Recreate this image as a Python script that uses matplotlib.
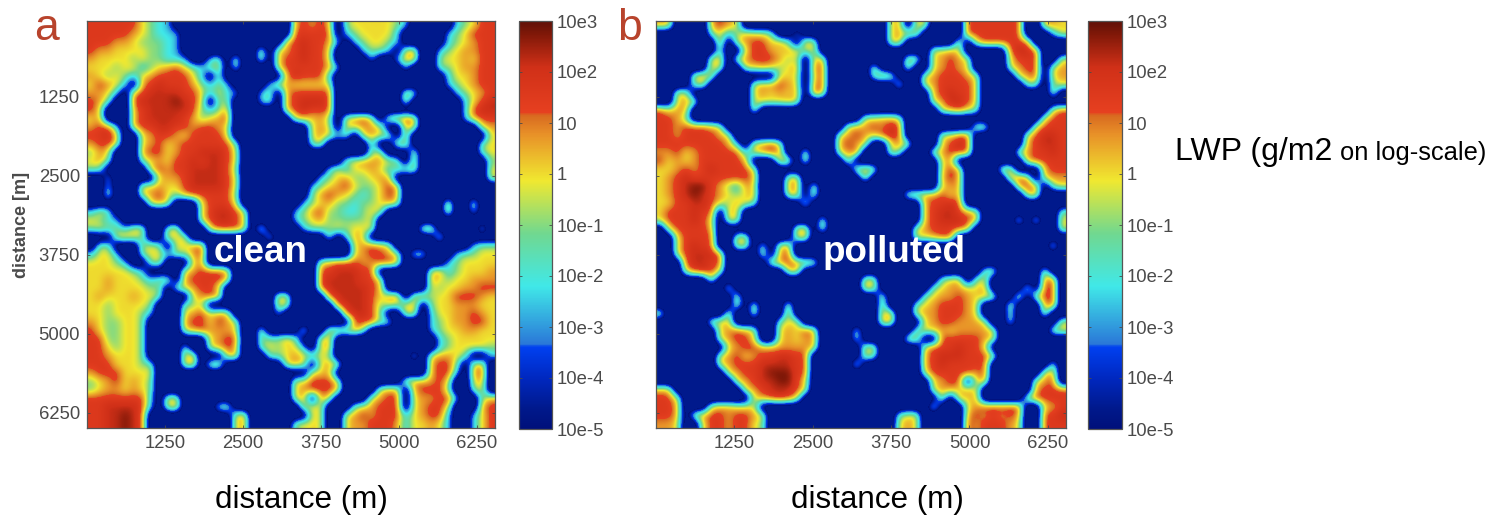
import numpy as np
import matplotlib
matplotlib.use("Agg")
import matplotlib.pyplot as plt
from matplotlib.colors import LinearSegmentedColormap, Normalize
from matplotlib.cm import ScalarMappable

plt.rcParams['font.family'] = ['Liberation Sans', 'DejaVu Sans']

clean_rows = [
"5555553211 0000000000 0000454540 2333332100 00012355",
"5555543211 1000000000 0000555550 1233331000 00123555",
"5554432221 1000000000 0004565541 0123321000 00123455",
"5443333221 1000000000 3034565530 0012210340 01234455",
"4333323221 1100120300 3035565530 0001001440 02334355",
"3332331234 5321230200 0035555541 0000000100 02234455",
"4323213455 5531020000 0004655510 0000000000 00133455",
"3543104565 5542121000 0134333330 0000000000 00123455",
"4431045666 6553131100 1204555550 0000000320 00012345",
"5420056666 7653022000 1204566650 0000000300 00001356",
"5300045666 6652124000 0004565550 0000000000 00001566",
"3400045666 6542345000 0000343420 3453034540 00001455",
"4551045566 5545543000 0000003430 3344300430 00000034",
"5564003455 4355553000 0000003431 2034330300 00000003",
"4553003453 4555555200 0000002300 0002003300 00000023",
"2430004553 4556665300 0000000000 0002300030 00000023",
"3420002343 5565665300 0000000000 2344432030 00000002",
"2200000354 5566665200 0000000013 1334312230 00000003",
"0010000034 4566665300 0000000123 4223440000 00000003",
"0010003343 3566665300 0000001234 5322354000 00000000",
"0030003453 2455555200 0000002454 3212354000 00000000",
"0000000343 0003555300 0000012342 2122343000 00400300",
"1320000000 0003566530 0000124522 1123300000 00400100",
"3211000000 0003566530 0000123422 2223000000 00000000",
"2322133002 4000355530 4000012223 2333000003 40000020",
"0003432003 3300000000 0200000020 1430000000 03000000",
"0220002320 3345000000 0000000000 0345430000 00000122",
"1331002331 2245000000 0000000000 0345543022 00012233",
"3332100230 0034000000 0000000345 5544554000 00123333",
"3333321000 0345554000 0000000556 6655000000 34123334",
"3343332123 0455554000 0000000566 6655300000 43233444",
"3343333220 2345530000 0000000566 6665400000 32334455",
"3433343320 0034540000 0033000056 6665345034 23355543",
"3323333200 0223000000 0033000005 6665232340 23344433",
"3323332100 0345344000 0010000000 5665200330 13344543",
"4322332000 0455354300 0000000000 0555220000 12344553",
"5322332000 0345444300 3000030033 3420000000 12334433",
"5522332000 0000345500 2224200340 0000000000 01233333",
"5532332000 0200345400 2323310340 0000000000 01233332",
"5543332000 0340003400 0223432320 0000000020 34432001",
"5553332200 0340340000 0003430343 0000000000 45520340",
"4555333300 0000000000 0000003340 0000000000 45510450",
"2345343200 0000000000 0000335553 0000000344 45300340",
"2344343200 0000000000 0000345554 0000344045 55200230",
"5555555103 3000000000 0000340430 0003455034 45510024",
"5566665103 4000023000 0000033300 0234555034 55300045",
"5566765000 0000000340 0000003300 3454555134 55100135",
"5566765000 0000000340 0000233300 3445554133 43100135",
]

polluted_rows = [
"4400004543 0000000000 0000000340 3300005555 55500443",
"0000002312 4332001000 0000000343 3000005555 55500013",
"0000000403 4553420430 0000000340 0000030355 55550000",
"0000000200 3554343230 0000000000 0033430000 05665000",
"0000003403 4555423034 0000000003 3034543000 03555003",
"0000003300 3343234045 0000030003 0034543000 03455034",
"0000343000 0000333035 0000024300 0345554300 00345034",
"0000230000 0344543045 0000000030 0345555300 00022023",
"0033000000 0343434054 0000000000 0045655300 00000030",
"0034300000 0333343000 0000000000 0034665300 00000000",
"5344000000 0300000000 0000000000 0003453200 00000035",
"5542000000 0000000000 0000334430 0000000000 00000355",
"5545554300 0000000000 0034454650 0000000330 00003555",
"5545555430 0000000000 0345435650 0003355000 00035665",
"5555555541 0345300000 0454300343 0003565000 00045665",
"4453455555 1345400300 0345000320 0034555000 00345565",
"5343455555 4000440300 0030000000 0003400000 00045555",
"3345456555 5300000000 0003430000 0003540000 34000455",
"3456555555 5400034000 0000300000 0004540000 04540344",
"3456775421 4300044030 0000000000 0003440000 00454023",
"3456765432 3400034030 0000000003 3445340000 00034000",
"3355665324 3200000300 0000000000 0455650000 00000000",
"3555655043 0000000000 0000000000 0456654300 00000002",
"3555653033 0000000003 0000000000 0456665400 00303003",
"0355554000 0000003403 0000000000 3455554000 00000003",
"0035555003 3000003400 0000000000 3345500000 00000000",
"0035655003 3020340000 0000000000 0000000000 00000030",
"0035666500 0030450000 0000000000 0000000000 00000000",
"0005665500 0003454330 0000000000 0000000000 00000000",
"0003565300 0000034000 0000000000 0000000023 00000300",
"0000003000 0000000000 0000330000 0002340230 00000450",
"0000000030 0000000000 0000430000 0023443340 00030550",
"0000000003 0000000000 0000003000 0234454343 00403550",
"0000000003 0300030000 0000003000 2345554300 03000450",
"3000000030 0300040000 0000003400 3445554300 02000300",
"0000003340 0000233000 0000004400 0345544430 02000003",
"0000000345 4300343540 0002000000 2334344443 00000033",
"0000000345 5300343440 0002000003 3005555543 00000000",
"0000000034 5544444440 0000330000 0355565530 00000000",
"0000000345 3455665500 0000320000 0456665553 00000000",
"0000000345 5566665500 0003000000 0456555550 00000020",
"0000000034 5567775500 0000000000 0355555450 00000340",
"0000000003 4566775300 0000000000 0034550340 00003450",
"4400000000 3456665300 0000000000 0034434300 00004555",
"5530000000 0345653000 0000000000 0003043400 00035555",
"5540003443 3300000000 0000000000 0030003455 55500345",
"5540345545 5430000000 0000000023 3000004545 45400556",
"4430035545 5320000000 0000000034 3000005455 54300555",
]

# exponent of LWP for each class code, the clear sky falls under the bar
class_exponent = [-7.0, -2.3, -1.0, 0.0, 0.7, 1.6, 2.2, 2.8]

# colour bar as seen in the reference
bar_exponent = [-5, -4.6, -4, -3.4, -3.33, -2.2, -1.17, -0.13, 0.79, 1.15, 1.21, 2.1, 2.75, 3]
bar_colors = ["#00107a", "#00198c", "#0028c0", "#0040f0", "#2a78d8", "#40e8e8", "#70d890",
              "#f0e830", "#e89028", "#d86a20", "#e64020", "#d03018", "#801808", "#601008"]

ticks = [1250, 2500, 3750, 5000, 6250]
bar_ticks = [3, 2, 1, 0, -1, -2, -3, -4, -5]
bar_labels = ["10e3", "10e2", "10", "1", "10e-1", "10e-2", "10e-3", "10e-4", "10e-5"]

W, H = 1496, 517

def to_grid(rows):
    grid = []
    for r in rows:
        r = r.replace(" ", "")
        assert len(r) == 48, r
        grid.append([class_exponent[int(c)] for c in r])
    return np.array(grid)

def box(x0, y0, x1, y1):
    return [x0/W, 1-y1/H, (x1-x0)/W, (y1-y0)/H]

pos = [v+5 for v in bar_exponent]
cmap = LinearSegmentedColormap.from_list("lwp", [(p/8, c) for p, c in zip(pos, bar_colors)], N=512)
cmap.set_under("#00198c")
norm = Normalize(-5, 3)
gray = "#4a4a4a"

fig = plt.figure(figsize=(W/100, H/100), dpi=100)

def panel(rows, x0, x1, bx0, bx1, name, name_x, label, label_x, left_ticks):
    ax = fig.add_axes(box(x0, 21, x1, 428))
    ax.imshow(to_grid(rows), cmap=cmap, norm=norm, extent=[0, 6540, 6490, 50],
              aspect="auto", interpolation="bicubic", interpolation_stage="data")
    ax.set_xticks(ticks)
    ax.set_yticks(ticks)
    ax.set_xticklabels([str(t) for t in ticks])
    if left_ticks:
        ax.set_yticklabels([str(t) for t in ticks])
    else:
        ax.set_yticklabels([])
    ax.tick_params(direction="in", length=2, width=0.6, colors=gray, labelsize=13.3, pad=5,
                   top=True, right=True)
    for s in ax.spines.values():
        s.set_color("#555555")
        s.set_linewidth(0.9)
    cax = fig.add_axes(box(bx0, 21, bx1, 429))
    cb = fig.colorbar(ScalarMappable(norm=norm, cmap=cmap), cax=cax)
    cb.set_ticks(bar_ticks)
    cb.set_ticklabels(bar_labels)
    cb.ax.tick_params(length=2, width=0.6, direction="in", colors=gray, labelsize=13.3, pad=3,
                      left=True, right=True)
    cb.outline.set_edgecolor("#555555")
    cb.outline.set_linewidth(0.9)
    fig.text(name_x/W, 1-28/H, name, color="#b8432c", fontsize=32, ha="center", va="center")
    ax.text((label_x-x0)/(x1-x0), 1-(252-21)/407, label, transform=ax.transAxes, color="white",
            fontsize=26.5, fontweight="bold", ha="center", va="center")

panel(clean_rows, 87, 495, 519, 552, "a", 46, "clean", 261, True)
panel(polluted_rows, 656, 1066, 1088, 1122, "b", 629, "polluted", 894, False)

fig.text(22/W, 1-225/H, "distance [m]", rotation=90, fontsize=13, fontweight="bold", color=gray,
         ha="center", va="center")
fig.text(301/W, 1-500/H, "distance (m)", fontsize=22.6, ha="center", va="center")
fig.text(877/W, 1-500/H, "distance (m)", fontsize=22.6, ha="center", va="center")
fig.text(1175/W, 1-160/H, "LWP (g/m2", fontsize=23, ha="left", va="baseline")
fig.text(1340/W, 1-160/H, "on log-scale)", fontsize=18.4, ha="left", va="baseline")

fig.savefig("out.png", dpi=100)
